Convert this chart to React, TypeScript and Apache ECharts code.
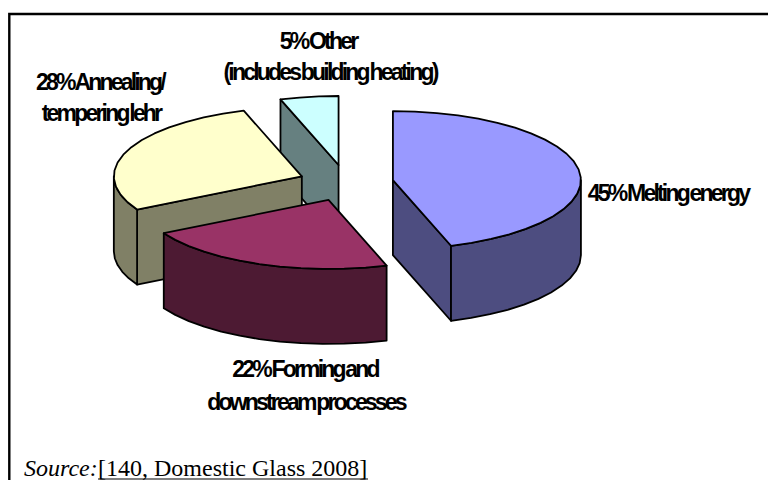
import React, { useEffect, useRef } from "react";
import * as echarts from "echarts";

const sliceNames = ["Melting energy", "Forming and downstream processes", "Annealing/tempering lehr", "Other"];
const sliceValues = [45, 22, 28, 5];
const topColors = ["#9999FF", "#993366", "#FFFFCC", "#CCFFFF"];
const sideColors = ["#4D4D80", "#4D1A33", "#808066", "#668080"];
// back-to-front painter's order
const drawOrder = [3, 2, 0, 1];
// which radial faces of each slice look towards the viewer: start edge, end edge
const visibleFaces = [[false, true], [false, false], [true, false], [true, false]];

const labelLines = [
  { text: "45% Melting energy", x: 668, y: 193 },
  { text: "22% Forming and", x: 305, y: 369 },
  { text: "downstream processes", x: 306, y: 402 },
  { text: "28% Annealing/", x: 100, y: 82 },
  { text: "tempering lehr", x: 101, y: 113 },
  { text: "5% Other", x: 318, y: 41 },
  { text: "(includes building heating)", x: 330, y: 72 },
];

const RX = 188;
const RY = 69;
const DEPTH = 75;
const CX = 346;
const CY = 183;
const EXPLODE_X = 47.5;
const EXPLODE_Y = 18.2;
const TOTAL = sliceValues.reduce((a, b) => a + b, 0);

const sliceStart = (i: number) => {
  let s = 0;
  for (let k = 0; k < i; k++) s += sliceValues[k];
  return s;
};

function renderSlice(_params: any, api: any) {
  const index = api.value(0) as number;
  const value = api.value(1) as number;
  const a0 = (sliceStart(index) / TOTAL) * Math.PI * 2;
  const a1 = a0 + (value / TOTAL) * Math.PI * 2;
  const mid = (a0 + a1) / 2;
  const ox = CX + EXPLODE_X * Math.sin(mid);
  const oy = CY - EXPLODE_Y * Math.cos(mid);
  const rim = (a: number): number[] => [ox + RX * Math.sin(a), oy - RY * Math.cos(a)];
  const step = (7 * Math.PI) / 180;
  const sweep = (lo: number, hi: number) => {
    const n = Math.max(2, Math.ceil((hi - lo) / step));
    const pts: number[][] = [];
    for (let k = 0; k <= n; k++) pts.push(rim(lo + ((hi - lo) * k) / n));
    return pts;
  };
  const arc = sweep(a0, a1);
  const down = (p: number[]) => [p[0], p[1] + DEPTH];
  const lineStyle = { stroke: "#000", lineWidth: 1.8, lineJoin: "round" };
  const side = sideColors[index];
  const children: any[] = [];
  const poly = (points: number[][], fill: string) =>
    children.push({ type: "polygon", shape: { points }, style: { ...lineStyle, fill } });

  const centre = [ox, oy];
  const [startFace, endFace] = visibleFaces[index];
  if (startFace) {
    const p = arc[0];
    poly([p, centre, down(centre), down(p)], side);
  }
  if (endFace) {
    const p = arc[arc.length - 1];
    poly([p, centre, down(centre), down(p)], side);
  }
  // outer wall: only the part of the rim on the front half
  const lo = Math.max(a0, Math.PI / 2);
  const hi = Math.min(a1, (3 * Math.PI) / 2);
  if (hi > lo) {
    const top = sweep(lo, hi);
    poly([...top, ...top.slice().reverse().map(down)], side);
  }
  // top face
  poly([centre, ...arc], topColors[index]);
  return { type: "group", children };
}

export default function App() {
  const ref = useRef<HTMLDivElement>(null);
  useEffect(() => {
    const chart = echarts.init(ref.current!, null, { renderer: "svg" });
    const labels: any[] = labelLines.map((l) => ({
      type: "text",
      x: l.x,
      y: l.y,
      silent: true,
      style: {
        text: l.text,
        fill: "#000",
        font: 'bold 23px "Liberation Sans"',
        textAlign: "center",
        textVerticalAlign: "middle",
      },
    }));
    chart.setOption({
      animation: false,
      backgroundColor: "#fff",
      series: [
        {
          type: "custom",
          coordinateSystem: "none",
          silent: true,
          renderItem: renderSlice,
          data: drawOrder.map((i) => ({ name: sliceNames[i], value: [i, sliceValues[i]] })),
        },
      ],
      graphic: [
        {
          type: "polyline",
          shape: { points: [[9.3, 480], [9.3, 14], [768, 14]] },
          style: { fill: "none", stroke: "#000", lineWidth: 2.4 },
          silent: true,
        },
        ...labels,
        {
          type: "text",
          x: 24,
          y: 467.5,
          style: {
            text: "Source:",
            fill: "#000",
            font: 'italic 24px "Liberation Serif"',
            textAlign: "left",
            textVerticalAlign: "middle",
          },
        },
        {
          type: "text",
          x: 98,
          y: 467.5,
          style: {
            text: "[140, Domestic Glass 2008]",
            fill: "#000",
            font: '24px "Liberation Serif"',
            textAlign: "left",
            textVerticalAlign: "middle",
          },
        },
        {
          type: "line",
          shape: { x1: 98, y1: 479, x2: 368, y2: 479 },
          style: { stroke: "#000", lineWidth: 1.2 },
        },
      ],
    });
    return () => chart.dispose();
  }, []);
  return (
    <>
      <style>{`body{margin:0} .c text[style*="Liberation Sans"]{letter-spacing:-2.8px;word-spacing:-2px}`}</style>
      <div ref={ref} className="c" style={{ position: "fixed", left: 0, top: 0, width: 768, height: 480 }} />
    </>
  );
}
